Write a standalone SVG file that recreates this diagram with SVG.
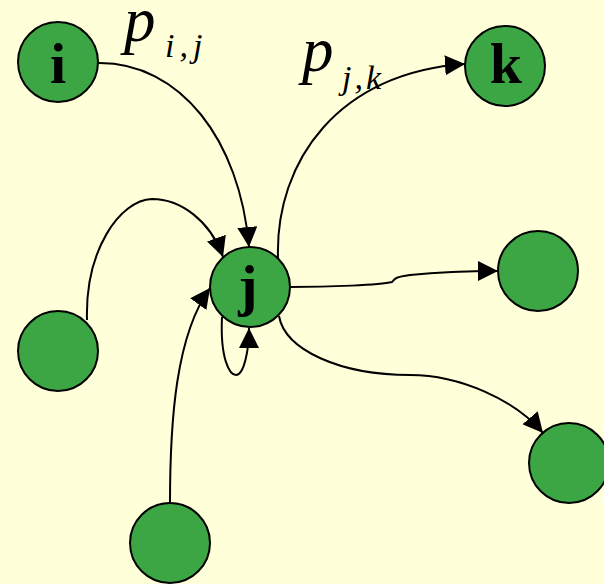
<svg xmlns="http://www.w3.org/2000/svg" width="604" height="584" viewBox="0 0 604 584">
<style>
.n{fill:#3da644;stroke:#000;stroke-width:2}
.e{fill:none;stroke:#000;stroke-width:2}
.lbl{font-family:"Liberation Serif",serif;font-weight:bold;font-size:58px;text-anchor:middle}
.p{font-family:"Liberation Serif",serif;font-style:italic}
</style>
<defs>
<marker id="a" viewBox="0 0 20 20" refX="20" refY="10" markerWidth="20" markerHeight="20" markerUnits="userSpaceOnUse" orient="auto">
<path d="M0,0 L20,10 L0,20 Z" fill="#000"/>
</marker>
</defs>
<rect width="604" height="584" fill="#ffffd9"/>
<g id="connectors">
<path class="e" marker-end="url(#a)" d="M98,63 C180,62 240,140 249,247"/>
<path class="e" marker-end="url(#a)" d="M278,258 C275,160 340,72 465,64"/>
<path class="e" marker-end="url(#a)" d="M87,320 C85,250 120,200 152,199 C180,199 210,220 223,257"/>
<path class="e" marker-end="url(#a)" d="M170,503 C170,420 176,335 210,288"/>
<path class="e" marker-end="url(#a)" d="M222,317 C220,360 230,375 236,375 C244,375 249,350 249,328"/>
<path class="e" marker-end="url(#a)" d="M290,287 C330,287 380,285 392,282 C395,278 396,277 410,275 C440,272 470,271 498,271"/>
<path class="e" marker-end="url(#a)" d="M279,316 C285,350 340,375 410,375 C460,375 515,400 543,433"/>
</g>
<g id="node-i"><circle class="n" cx="58" cy="62" r="40"/><text class="lbl" x="58" y="83">i</text></g>
<g id="node-k"><circle class="n" cx="505" cy="66" r="40"/><text class="lbl" x="506" y="83">k</text></g>
<g id="node-j"><circle class="n" cx="250" cy="287" r="40"/><text class="lbl" x="248" y="305">j</text></g>
<g id="node-r"><circle class="n" cx="538" cy="271" r="40"/></g>
<g id="node-lr"><circle class="n" cx="569" cy="463" r="40"/></g>
<g id="node-l"><circle class="n" cx="58" cy="351" r="40"/></g>
<g id="node-b"><circle class="n" cx="170" cy="543" r="40"/></g>
<g id="label-pij"><text class="p" x="124" y="41" font-size="63">p</text><text class="p" x="165" y="57" font-size="34" letter-spacing="5">i,j</text></g>
<g id="label-pjk"><text class="p" x="302" y="71" font-size="63">p</text><text class="p" x="342" y="89" font-size="34" letter-spacing="3">j,k</text></g>
</svg>
